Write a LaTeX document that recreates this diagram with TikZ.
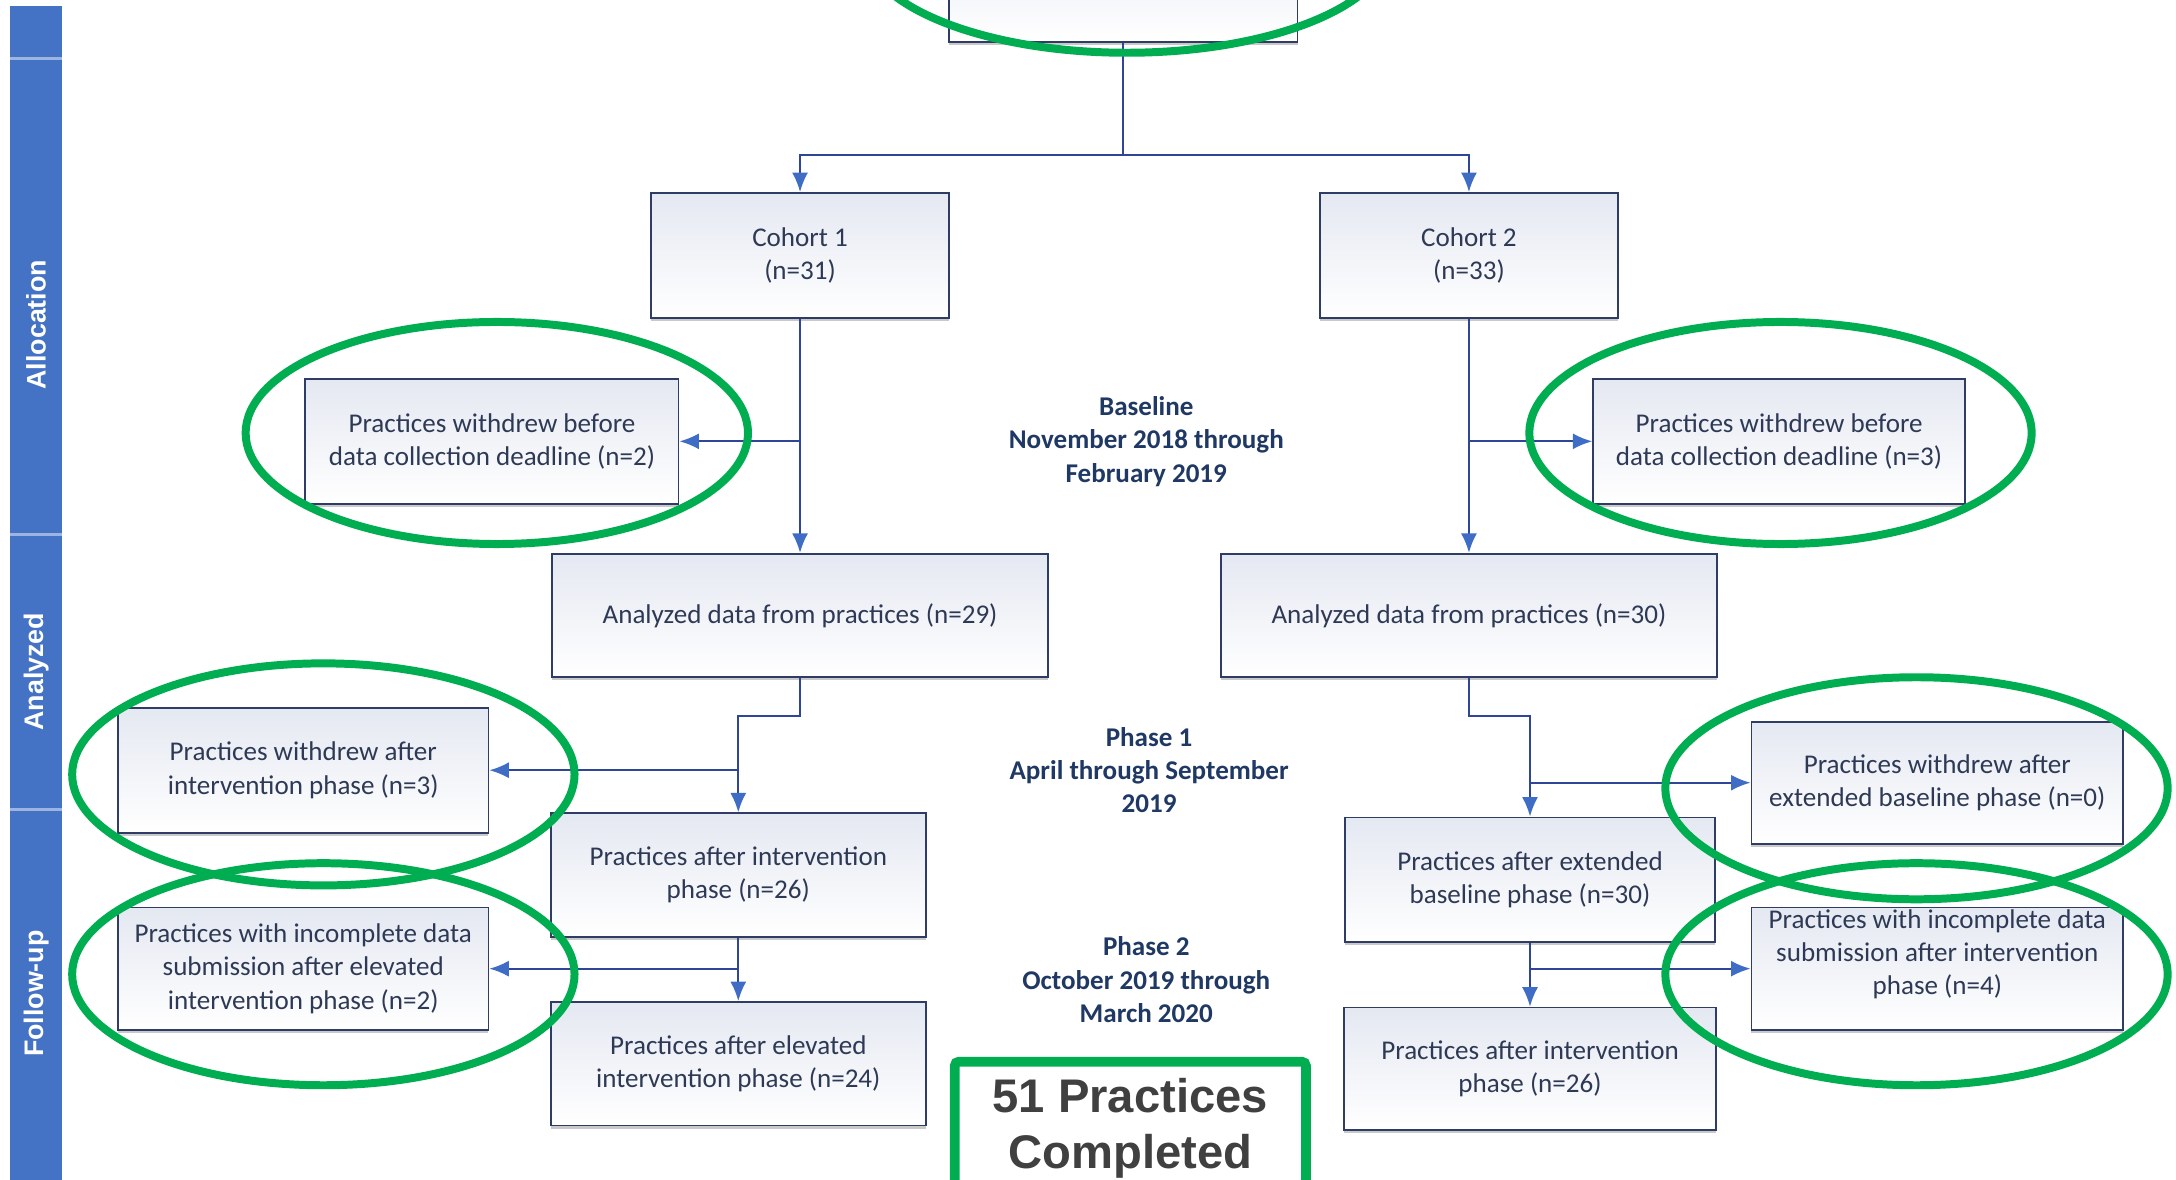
\documentclass[tikz,border=0pt]{standalone}
\usepackage{fontspec}
\setmainfont{Carlito}
\newfontfamily\arialfont{Liberation Sans}
\usetikzlibrary{arrows.meta,shadows}
\definecolor{bandblue}{HTML}{4472C4}
\definecolor{sepblue}{HTML}{9DB4E0}
\definecolor{boxtext}{HTML}{2E3A55}
\definecolor{phasetext}{HTML}{1F3864}
\definecolor{boxline}{HTML}{2F3D66}
\definecolor{boxshade}{HTML}{E4E8F1}
\definecolor{connline}{HTML}{2F4596}
\definecolor{tipblue}{HTML}{3F6CC4}
\definecolor{ringgreen}{HTML}{00AD50}
\definecolor{donetext}{HTML}{404040}
\begin{document}
\begin{tikzpicture}[x=0.2mm,y=-0.2mm,
  flowbox/.style={rectangle, draw=boxline, line width=0.25mm, top color=boxshade, bottom color=white,
    text=boxtext, font=\fontsize{11.1}{13.66}\selectfont, align=center, inner sep=0pt,
    drop shadow={shadow xshift=0mm, shadow yshift=-0.45mm, fill=black!35, opacity=0.6}},
  wh/.style 2 args={minimum width=#1*0.2mm, minimum height=#2*0.2mm},
  phaselabel/.style={text=phasetext, font=\fontsize{11.1}{13.66}\selectfont\bfseries, align=center, inner sep=0pt},
  bandlabel/.style={text=white, font=\arialfont\bfseries\fontsize{11}{13}\selectfont, rotate=90, inner sep=0pt},
  flowline/.style={draw=connline, line width=0.3mm},
  flowarrow/.style={draw=connline, line width=0.3mm, -{Latex[length=2.8mm,width=2.3mm,color=tipblue]}},
  ring/.style={draw=ringgreen, line width=1.15mm},
  donebox/.style={rectangle, draw=ringgreen, line width=1.4mm, rounded corners=0.6mm, fill=white, text=donetext,
    font=\arialfont\bfseries\fontsize{19.35}{22.8}\selectfont, align=center, inner sep=0pt}
]
\useasboundingbox (0,0) rectangle (1568,849.6);
\clip (0,0) rectangle (1568,849.6);
\fill[white] (0,0) rectangle (1568,849.6);

% side band
\fill[bandblue] (7,4) rectangle (45,860);
\draw[sepblue, line width=0.45mm] (7,42) -- (45,42);
\draw[sepblue, line width=0.45mm] (7,385) -- (45,385);
\draw[sepblue, line width=0.45mm] (7,583) -- (45,583);
\node[bandlabel] (lblalloc) at (26,234) {Allocation};
\node[bandlabel] (lblanal) at (26,484) {Analyzed};
\node[bandlabel] (lblfollow) at (26,716) {Follow-up};

% boxes
\node[flowbox, wh={251}{90}] (top) at (809.5,-15) {};
\node[flowbox, wh={215}{90}] (c1) at (576.5,184) {Cohort 1\\(n=31)};
\node[flowbox, wh={215}{90}] (c2) at (1058.5,184) {Cohort 2\\(n=33)};
\node[flowbox, wh={269}{90}] (wL1) at (354.5,318) {Practices withdrew before\\data collection deadline (n=2)};
\node[flowbox, wh={268}{90}] (wR1) at (1282,318) {Practices withdrew before\\data collection deadline (n=3)};
\node[flowbox, wh={357}{89}] (aL) at (576.5,443.5) {Analyzed data from practices (n=29)};
\node[flowbox, wh={357}{89}] (aR) at (1058.5,443.5) {Analyzed data from practices (n=30)};
\node[flowbox, wh={267}{90}] (wL2) at (218.5,555) {Practices withdrew after\\intervention phase (n=3)};
\node[flowbox, wh={270}{89}] (iL) at (532,630.5) {Practices after intervention\\phase (n=26)};
\node[flowbox, wh={267}{88}] (incL) at (218.5,698) {Practices with incomplete data\\submission after elevated\\intervention phase (n=2)};
\node[flowbox, wh={270}{89}] (eL) at (532,766.5) {Practices after elevated\\intervention phase (n=24)};
\node[flowbox, wh={268}{88}] (wR2) at (1396,564) {Practices withdrew after\\extended baseline phase (n=0)};
\node[flowbox, wh={267}{90}] (eBL) at (1102.5,634) {Practices after extended\\baseline phase (n=30)};
\node[flowbox, wh={268}{88}] (incR) at (1396,698) {Practices with incomplete data\\submission after intervention\\phase (n=4)\\\mbox{}};
\node[flowbox, wh={268}{88}] (iR) at (1102.5,770) {Practices after intervention\\phase (n=26)};

% phase labels
\node[phaselabel] (pbase) at (826,318) {Baseline\\November 2018 through\\February 2019};
\node[phaselabel] (pone) at (828,555) {Phase 1\\April through September\\2019};
\node[phaselabel] (ptwo) at (826,706) {Phase 2\\October 2019 through\\March 2020};

% connectors
\coordinate (split) at (809.5,112);
\draw[flowline] (top.south) -- (split);
\draw[flowarrow] (split) -| (c1.north);
\draw[flowarrow] (split) -| (c2.north);

\draw[flowarrow] (c1.south) -- (c1.south |- aL.north);
\draw[flowarrow] (c1.south |- wL1.east) -- (wL1.east);
\draw[flowarrow] (c2.south) -- (c2.south |- aR.north);
\draw[flowarrow] (c2.south |- wR1.west) -- (wR1.west);

\draw[flowarrow] (aL.south) -- ++(0,27) -| (iL.north);
\draw[flowarrow] (iL.north |- wL2.east) -- (wL2.east);
\draw[flowarrow] (iL.south) -- (eL.north);
\draw[flowarrow] (iL.south |- incL.east) -- (incL.east);

\draw[flowarrow] (aR.south) -- ++(0,27) -| (eBL.north);
\draw[flowarrow] (eBL.north |- wR2.west) -- (wR2.west);
\draw[flowarrow] (eBL.south) -- (iR.north);
\draw[flowarrow] (eBL.south |- incR.west) -- (incR.west);

% completed box
\node[donebox, wh={253}{96}] (done) at (814.5,813) {51 Practices\\Completed};

% green rings
\draw[ring] (812,-40) ellipse [x radius=38mm, y radius=15.6mm];
\draw[ring] (358,312) ellipse [x radius=36.2mm, y radius=16mm];
\draw[ring] (1283,312) ellipse [x radius=36.2mm, y radius=16mm];
\draw[ring] (233,558) ellipse [x radius=36.2mm, y radius=16mm];
\draw[ring] (233,702) ellipse [x radius=36.2mm, y radius=16mm];
\draw[ring] (1381,568) ellipse [x radius=36.2mm, y radius=16mm];
\draw[ring] (1381,702) ellipse [x radius=36.2mm, y radius=16mm];
\end{tikzpicture}
\end{document}
